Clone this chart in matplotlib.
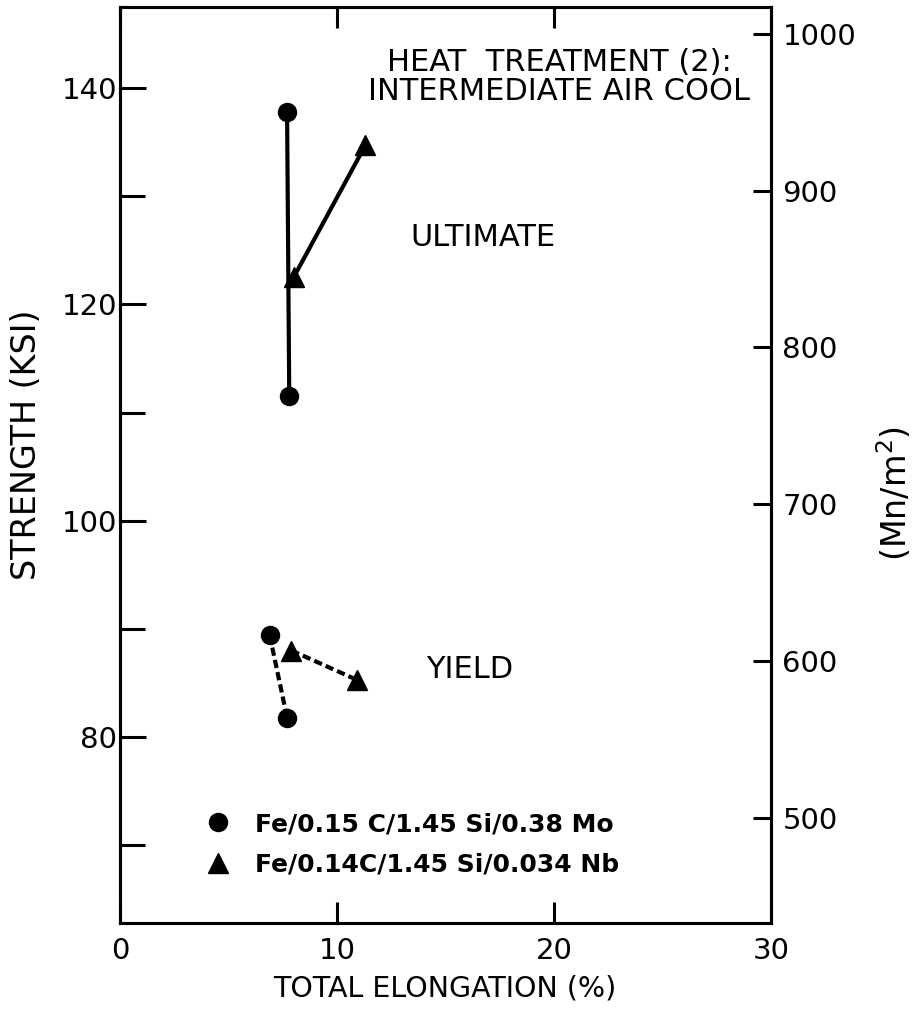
import numpy as np
import matplotlib
matplotlib.use("Agg")
import matplotlib.pyplot as plt
from matplotlib.lines import Line2D

# elongation (%) and strength (ksi)
mo_elong_ult = [7.7, 7.8]
mo_ult = [137.8, 111.5]
nb_elong_ult = [8.0, 11.3]
nb_ult = [122.5, 134.7]

mo_elong_yld = [6.9, 7.7]
mo_yld = [89.4, 81.8]
nb_elong_yld = [7.9, 10.9]
nb_yld = [88.0, 85.3]

mo_label = "Fe/0.15 C/1.45 Si/0.38 Mo"
nb_label = "Fe/0.14C/1.45 Si/0.034 Nb"

x_ticks = [0, 10, 20, 30]
y_major = [80, 100, 120, 140]
y_minor = [70, 90, 110, 130]
mpa_ticks = [500, 600, 700, 800, 900, 1000]

KSI_TO_MPA = 6.895
ylo, yhi = 62.8, 147.5

plt.rcParams['font.family'] = ['DejaVu Sans']

fig = plt.figure(figsize=(9.15, 10.11), dpi=100)
ax = fig.add_axes([0.131, 0.087, 0.712, 0.906])

lw = 3.0
dash = (2.0, 1.0)
ax.plot(mo_elong_ult, mo_ult, color='k', lw=lw, marker='o', ms=13)
ax.plot(nb_elong_ult, nb_ult, color='k', lw=lw, marker='^', ms=15)
ax.plot(mo_elong_yld, mo_yld, color='k', lw=lw, marker='o', ms=13,
        linestyle=(0, dash))
ax.plot(nb_elong_yld, nb_yld, color='k', lw=lw, marker='^', ms=15,
        linestyle=(0, dash))

ax.set_xlim(0, 30)
ax.set_ylim(ylo, yhi)

for s in ax.spines.values():
    s.set_linewidth(2.2)

ax.set_xticks(x_ticks)
ax.set_xticklabels([str(v) for v in x_ticks])
ax.set_yticks(y_major)
ax.set_yticks(y_minor, minor=True)
ax.tick_params(axis='x', direction='in', length=15, width=2.2, labelsize=21,
               pad=10, top=True)
ax.tick_params(axis='y', which='major', direction='in', length=19, width=2.2,
               labelsize=21, pad=2)
ax.tick_params(axis='y', which='minor', direction='in', length=18, width=2.2)

ax.set_xlabel("TOTAL ELONGATION (%)", fontsize=20.5)
ax.xaxis.set_label_coords(0.499, -0.056)
ax.set_ylabel("STRENGTH (KSI)", fontsize=24)
ax.yaxis.set_label_coords(-0.118, 0.522)

# right axis in Mn/m^2
ax2 = ax.twinx()
ax2.set_ylim(ylo * KSI_TO_MPA, yhi * KSI_TO_MPA)
ax2.set_yticks(mpa_ticks)
ax2.tick_params(axis='y', direction='in', length=13, width=2.2, labelsize=21,
                pad=8)
for s in ax2.spines.values():
    s.set_linewidth(2.2)
ax2.set_ylabel(r"(Mn/m$^2$)", fontsize=24)
ax2.yaxis.set_label_coords(1.160, 0.469)

ax.text(0.968, 0.924, "HEAT  TREATMENT (2):\nINTERMEDIATE AIR COOL",
        transform=ax.transAxes, ha='right', va='center', fontsize=22,
        linespacing=1.0, multialignment='center')
ax.text(16.7, 126.2, "ULTIMATE", ha='center', va='center', fontsize=22)
ax.text(16.1, 86.2, "YIELD", ha='center', va='center', fontsize=22)

handles = [
    Line2D([], [], color='k', marker='o', ls='none', ms=13),
    Line2D([], [], color='k', marker='^', ls='none', ms=15),
]
ax.legend(handles, [mo_label, nb_label], loc='center left',
          bbox_to_anchor=(0.132, 0.086), frameon=False,
          prop={'size': 18, 'weight': 'bold'},
          handlelength=1.0, handletextpad=0.95, labelspacing=0.65,
          borderpad=0, borderaxespad=0)

fig.savefig("out.png", dpi=100)
